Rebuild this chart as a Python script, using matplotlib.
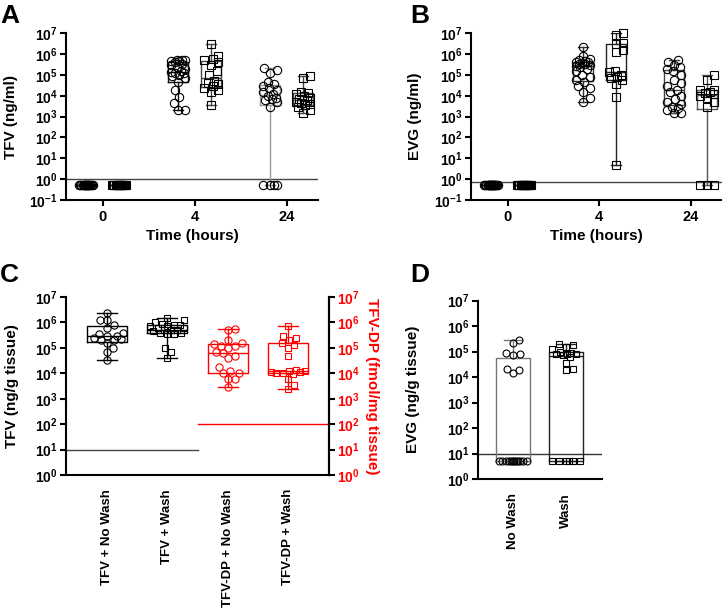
import numpy as np
import matplotlib
matplotlib.use('Agg')
import matplotlib.pyplot as plt
from matplotlib.ticker import FixedLocator, NullLocator, FuncFormatter

plt.rcParams['font.family'] = ['Liberation Sans', 'DejaVu Sans']
plt.rcParams['font.weight'] = 'bold'
plt.rcParams['axes.labelweight'] = 'bold'
plt.rcParams['mathtext.fontset'] = 'custom'
plt.rcParams['mathtext.rm'] = 'Liberation Sans:bold'
plt.rcParams['mathtext.bf'] = 'Liberation Sans:bold'
plt.rcParams['mathtext.it'] = 'Liberation Sans:bold'

# ---------------- data ----------------
time_labels = ['0', '4', '24']

A_t0_circ = [0.5, 0.5, 0.5, 0.5, 0.5, 0.5, 0.5, 0.5, 0.5, 0.5, 0.5, 0.5, 0.5, 0.5, 0.5, 0.5, 0.5, 0.5, 0.5, 0.5]
A_t0_sq = [0.5, 0.5, 0.5, 0.5, 0.5, 0.5, 0.5, 0.5, 0.5, 0.5, 0.5, 0.5, 0.5, 0.5, 0.5, 0.5]
A_t4_circ = [2e3, 2.1e3, 4.4e3, 9e3, 1.9e4, 4.8e4, 7e4, 9e4, 1e5, 1.2e5, 1.3e5, 1.4e5,
             1.5e5, 2e5, 2.5e5, 3e5, 3.5e5, 4e5, 4.5e5, 4.8e5, 5e5, 5.2e5, 5.5e5]
A_t4_sq = [3.5e3, 1.5e4, 2e4, 2.5e4, 3e4, 3.5e4, 4e4, 5e4, 1e5, 1.5e5, 3e5, 4e5, 5e5, 6e5, 8e5, 3e6]
A_t24_circ = [0.5, 0.5, 0.5, 0.5, 3e3, 5e3, 6e3, 7e3, 8e3, 1e4, 1.2e4, 1.5e4, 2e4, 2.5e4,
              3e4, 3.5e4, 4.5e4, 1.2e5, 1.8e5, 2.2e5]
A_t24_sq = [1.5e3, 2e3, 3e3, 3.5e3, 4e3, 4.5e3, 5e3, 6e3, 7e3, 8e3, 1e4, 1.2e4, 1.4e4, 1.6e4, 7e4, 9e4]

B_t0_circ = [0.5, 0.5, 0.5, 0.5, 0.5, 0.5, 0.5, 0.5, 0.5, 0.5, 0.5, 0.5, 0.5, 0.5, 0.5, 0.5, 0.5, 0.5, 0.5, 0.5, 0.5, 0.5]
B_t0_sq = [0.5, 0.5, 0.5, 0.5, 0.5, 0.5, 0.5, 0.5, 0.5, 0.5, 0.5, 0.5, 0.5, 0.5, 0.5, 0.5]
B_t4_circ = [5e3, 8e3, 1.5e4, 2.5e4, 3e4, 4.5e4, 6e4, 8e4, 1e5, 1.5e5, 2e5, 2.5e5, 2.8e5,
             3e5, 3.2e5, 3.5e5, 3.8e5, 4e5, 4.2e5, 4.5e5, 5e5, 6e5, 8e5, 2.2e6]
B_t4_sq = [5, 9e3, 3.5e4, 6e4, 7e4, 8e4, 1e5, 1.4e5, 1.5e5, 1.2e6, 1.5e6, 3e6, 3.5e6, 8e6, 1e7]
B_t24_circ = [1.5e3, 1.5e3, 2e3, 2.5e3, 3e3, 4e3, 5e3, 7e3, 1e4, 1.5e4, 2e4, 3e4, 4e4, 6e4,
              1e5, 1.5e5, 2e5, 2.5e5, 3e5, 4e5, 5e5]
B_t24_sq = [0.5, 0.5, 0.5, 3e3, 5e3, 8e3, 1e4, 1.2e4, 1.4e4, 1.5e4, 1.8e4, 2e4, 6e4, 1e5]

C_categories = ['TFV + No Wash', 'TFV + Wash', 'TFV-DP + No Wash', 'TFV-DP + Wash']
C_tfv_nowash = [3.2e4, 7e4, 1e5, 1.5e5, 2e5, 2e5, 2.2e5, 2.5e5, 3e5, 3e5, 3.5e5, 4e5, 6e5,
                8e5, 1.2e6, 1.3e6, 2.4e6]
C_tfv_wash = [4e4, 7e4, 1e5, 3.5e5, 3.5e5, 4e5, 4e5, 4.5e5, 5e5, 5e5, 5e5, 6e5, 6e5, 7e5,
              7e5, 8e5, 8e5, 9e5, 1e6, 1.2e6, 1.5e6]
C_dp_nowash = [3e3, 6e3, 6e3, 1e4, 1e4, 1.2e4, 1.7e4, 4e4, 5e4, 6.5e4, 7e4, 1e5, 1.2e5,
               1.2e5, 1.4e5, 1.5e5, 2e5, 5e5, 5.5e5]
C_dp_wash = [2.5e3, 3.5e3, 6e3, 9e3, 1e4, 1e4, 1.1e4, 1.1e4, 1.2e4, 1.2e4, 1.3e4, 5e4, 1e5,
             1.3e5, 1.5e5, 2e5, 2.5e5, 3e5, 7.5e5]

D_categories = ['No Wash', 'Wash']
D_nowash = [5, 5, 5, 5, 5, 5, 5, 5, 5, 5, 5, 5, 1.4e4, 1.8e4, 2e4, 7e4, 8e4, 9e4, 2.2e5, 2.8e5]
D_wash = [5, 5, 5, 5, 5, 5, 1.8e4, 2e4, 3.5e4, 6e4, 7e4, 8e4, 8e4, 8e4, 9e4, 1e5, 1.2e5,
          1.5e5, 1.8e5, 2e5]

LOD_A = 1.0
LOD_B = 0.7
LOD_C_tfv = 10.0
LOD_C_dp = 100.0
LOD_D = 10.0

# ---------------- helpers ----------------
W, H = 722, 608
fig = plt.figure(figsize=(W / 100, H / 100), dpi=100)


def px_axes(l, t, r, b):
    return fig.add_axes([l / W, 1 - b / H, (r - l) / W, (b - t) / H])


def swarm(vals, ppd, d, maxw):
    y = np.log10(np.asarray(vals, float)) * ppd
    order = np.argsort(y, kind='stable')
    cands = np.arange(0, maxw + 0.01, 0.5)
    cands = np.concatenate([[0], np.ravel(np.column_stack([cands[1:], -cands[1:]]))])
    placed_x, placed_y = [], []
    offs = np.zeros(len(y))
    for i in order:
        px = np.array(placed_x)
        py = np.array(placed_y)
        best = None
        bestd = -1
        bestc = 0
        for c in cands:
            if len(px) == 0:
                best = c
                break
            dist = np.hypot(px - c, py - y[i]).min()
            if dist >= d:
                best = c
                break
            if dist > bestd + 1e-9:
                bestd = dist
                bestc = c
        if best is None:
            best = bestc
        offs[i] = best
        placed_x.append(best)
        placed_y.append(y[i])
    return offs


def group(ax, vals, pos, marker, ms, color, boxw, boxcolor, ppd, ppu, maxw, d, lw=1.0):
    v = np.asarray(vals, float)
    q1, med, q3 = np.percentile(v, [25, 50, 75], method='weibull')
    st = dict(med=med, q1=q1, q3=q3, whislo=v.min(), whishi=v.max(), fliers=[])
    ax.bxp([st], positions=[pos], widths=boxw, capwidths=boxw * 0.5, showfliers=False,
           boxprops=dict(color=boxcolor, lw=lw), whiskerprops=dict(color=boxcolor, lw=lw),
           capprops=dict(color=boxcolor, lw=lw), medianprops=dict(color=boxcolor, lw=lw),
           manage_ticks=False)
    offs = swarm(v, ppd, d, maxw)
    ax.plot(pos + offs / ppu, v, ls='none', marker=marker, ms=ms, mfc='none', mec=color,
            mew=0.8, zorder=3, clip_on=False)


def sup_fmt(v, _):
    return r'$10^{%d}$' % int(round(np.log10(v)))


def style(ax, ylo, yhi):
    ax.set_yscale('log')
    ax.set_ylim(ylo, yhi)
    exps = np.arange(int(round(np.log10(ylo))), int(round(np.log10(yhi))) + 1)
    ax.yaxis.set_major_locator(FixedLocator(10.0 ** exps))
    ax.yaxis.set_minor_locator(NullLocator())
    ax.yaxis.set_major_formatter(FuncFormatter(sup_fmt))
    for s in ['top', 'right']:
        ax.spines[s].set_visible(False)
    for s in ['left', 'bottom']:
        ax.spines[s].set_linewidth(1.5)
    ax.tick_params(axis='both', width=1.5, length=4, labelsize=10, pad=2)
    ax.patch.set_alpha(0)


# ---------------- panel A & B ----------------
ppdAB = 166.7 / 8
ppuAB = 92.0
xposAB = np.arange(3)
gof = 0.18
bw = 0.22

axA = px_axes(66, 33.3, 318, 200)
axB = px_axes(471, 33.3, 722, 200)

for ax, groups, lod, ylab, bcols, ylc in [
    (axA, [(A_t0_circ, A_t0_sq), (A_t4_circ, A_t4_sq), (A_t24_circ, A_t24_sq)], LOD_A,
     'TFV (ng/ml)', [('#222', '#222'), ('#111', '#444'), ('#999', '#444')], -0.19),
    (axB, [(B_t0_circ, B_t0_sq), (B_t4_circ, B_t4_sq), (B_t24_circ, B_t24_sq)], LOD_B,
     'EVG (ng/ml)', [('#222', '#222'), ('#333', '#222'), ('#444', '#555')], -0.195),
]:
    style(ax, 0.1, 1e7)
    for i, (circ, sq) in enumerate(groups):
        group(ax, circ, xposAB[i] - gof, 'o', 6.0, 'black', bw, bcols[i][0], ppdAB, ppuAB, 7, 8)
        group(ax, sq, xposAB[i] + gof, 's', 5.6, 'black', bw, bcols[i][1], ppdAB, ppuAB, 7, 8)
    ax.set_xlim(-0.40, 2.34)
    ax.set_xticks(xposAB)
    ax.set_xticklabels(time_labels)
    ax.tick_params(axis='x', labelsize=10.5, pad=3)
    ax.axhline(lod, color='#444', lw=1.0, zorder=1)
    ax.set_ylabel(ylab, fontsize=11, fontweight='bold')
    ax.set_xlabel('Time (hours)', fontsize=11, fontweight='bold')
    ax.yaxis.set_label_coords(ylc, 0.5)
    ax.xaxis.set_label_coords(0.5, -0.172)

# ---------------- panel C ----------------
ppdC = 178.0 / 7
ppuC = 60.3
axC = px_axes(66, 297, 329, 475)
style(axC, 1, 1e7)
xC = np.arange(4)
group(axC, C_tfv_nowash, xC[0], 'o', 5.2, 'black', 0.66, 'black', ppdC, ppuC, 17, 7)
group(axC, C_tfv_wash, xC[1], 's', 5.0, 'black', 0.66, 'black', ppdC, ppuC, 17, 7)
axC.set_xlim(-0.68, 3.68)
axC.plot([-0.68, 1.5], [LOD_C_tfv, LOD_C_tfv], color='#444', lw=1.0)
axC.set_xticks(xC)
axC.set_xticklabels(C_categories, rotation=90, fontsize=9.5)
axC.tick_params(axis='x', length=0, pad=10)
axC.spines['right'].set_visible(True)
axC.spines['right'].set_linewidth(1.5)
axC.set_ylabel('TFV (ng/g tissue)', fontsize=11, fontweight='bold')
axC.yaxis.set_label_coords(-0.18, 0.5)

axC2 = axC.twinx()
axC2.set_yscale('log')
axC2.set_ylim(1, 1e7)
axC2.yaxis.set_major_locator(FixedLocator(10.0 ** np.arange(0, 8)))
axC2.yaxis.set_minor_locator(NullLocator())
axC2.yaxis.set_major_formatter(FuncFormatter(sup_fmt))
for s in ['top', 'left', 'bottom']:
    axC2.spines[s].set_visible(False)
axC2.spines['right'].set_linewidth(1.5)
axC2.tick_params(axis='y', width=1.5, length=4, labelsize=10, pad=2, labelcolor='red', colors='black')
for t in axC2.get_yticklabels():
    t.set_color('red')
group(axC2, C_dp_nowash, xC[2], 'o', 5.2, 'red', 0.66, 'red', ppdC, ppuC, 17, 7)
group(axC2, C_dp_wash, xC[3], 's', 5.0, 'red', 0.66, 'red', ppdC, ppuC, 17, 7)
axC2.set_xlim(-0.68, 3.68)
axC2.plot([1.5, 3.68], [LOD_C_dp, LOD_C_dp], color='red', lw=1.0)
axC2.set_ylabel('TFV-DP (fmol/mg tissue)', fontsize=11, fontweight='bold', color='red',
                rotation=270, va='bottom')
axC2.yaxis.set_label_coords(1.137, 0.5)

# ---------------- panel D ----------------
ppdD = 178.5 / 7
ppuD = 53.0
axD = px_axes(478, 300.5, 602, 479)
style(axD, 1, 1e7)
xD = np.arange(2)
group(axD, D_nowash, xD[0], 'o', 5.0, 'black', 0.65, '#777', ppdD, ppuD, 14, 7)
group(axD, D_wash, xD[1], 's', 5.0, 'black', 0.65, '#222', ppdD, ppuD, 14, 7)
axD.set_xlim(-0.66, 1.68)
axD.axhline(LOD_D, color='#333', lw=1.0, zorder=1)
axD.set_xticks(xD)
axD.set_xticklabels(D_categories, rotation=90, fontsize=9.5)
axD.tick_params(axis='x', length=0, pad=10)
axD.set_ylabel('EVG (ng/g tissue)', fontsize=11, fontweight='bold')
axD.yaxis.set_label_coords(-0.468, 0.5)

# ---------------- panel letters ----------------
for lab, x, y in [('A', 0, 16), ('B', 410, 16), ('C', 0, 275), ('D', 410, 275)]:
    fig.text(x / W, 1 - y / H, lab, fontsize=19, fontweight='bold', ha='left', va='center')

fig.savefig('out.png', dpi=100)
